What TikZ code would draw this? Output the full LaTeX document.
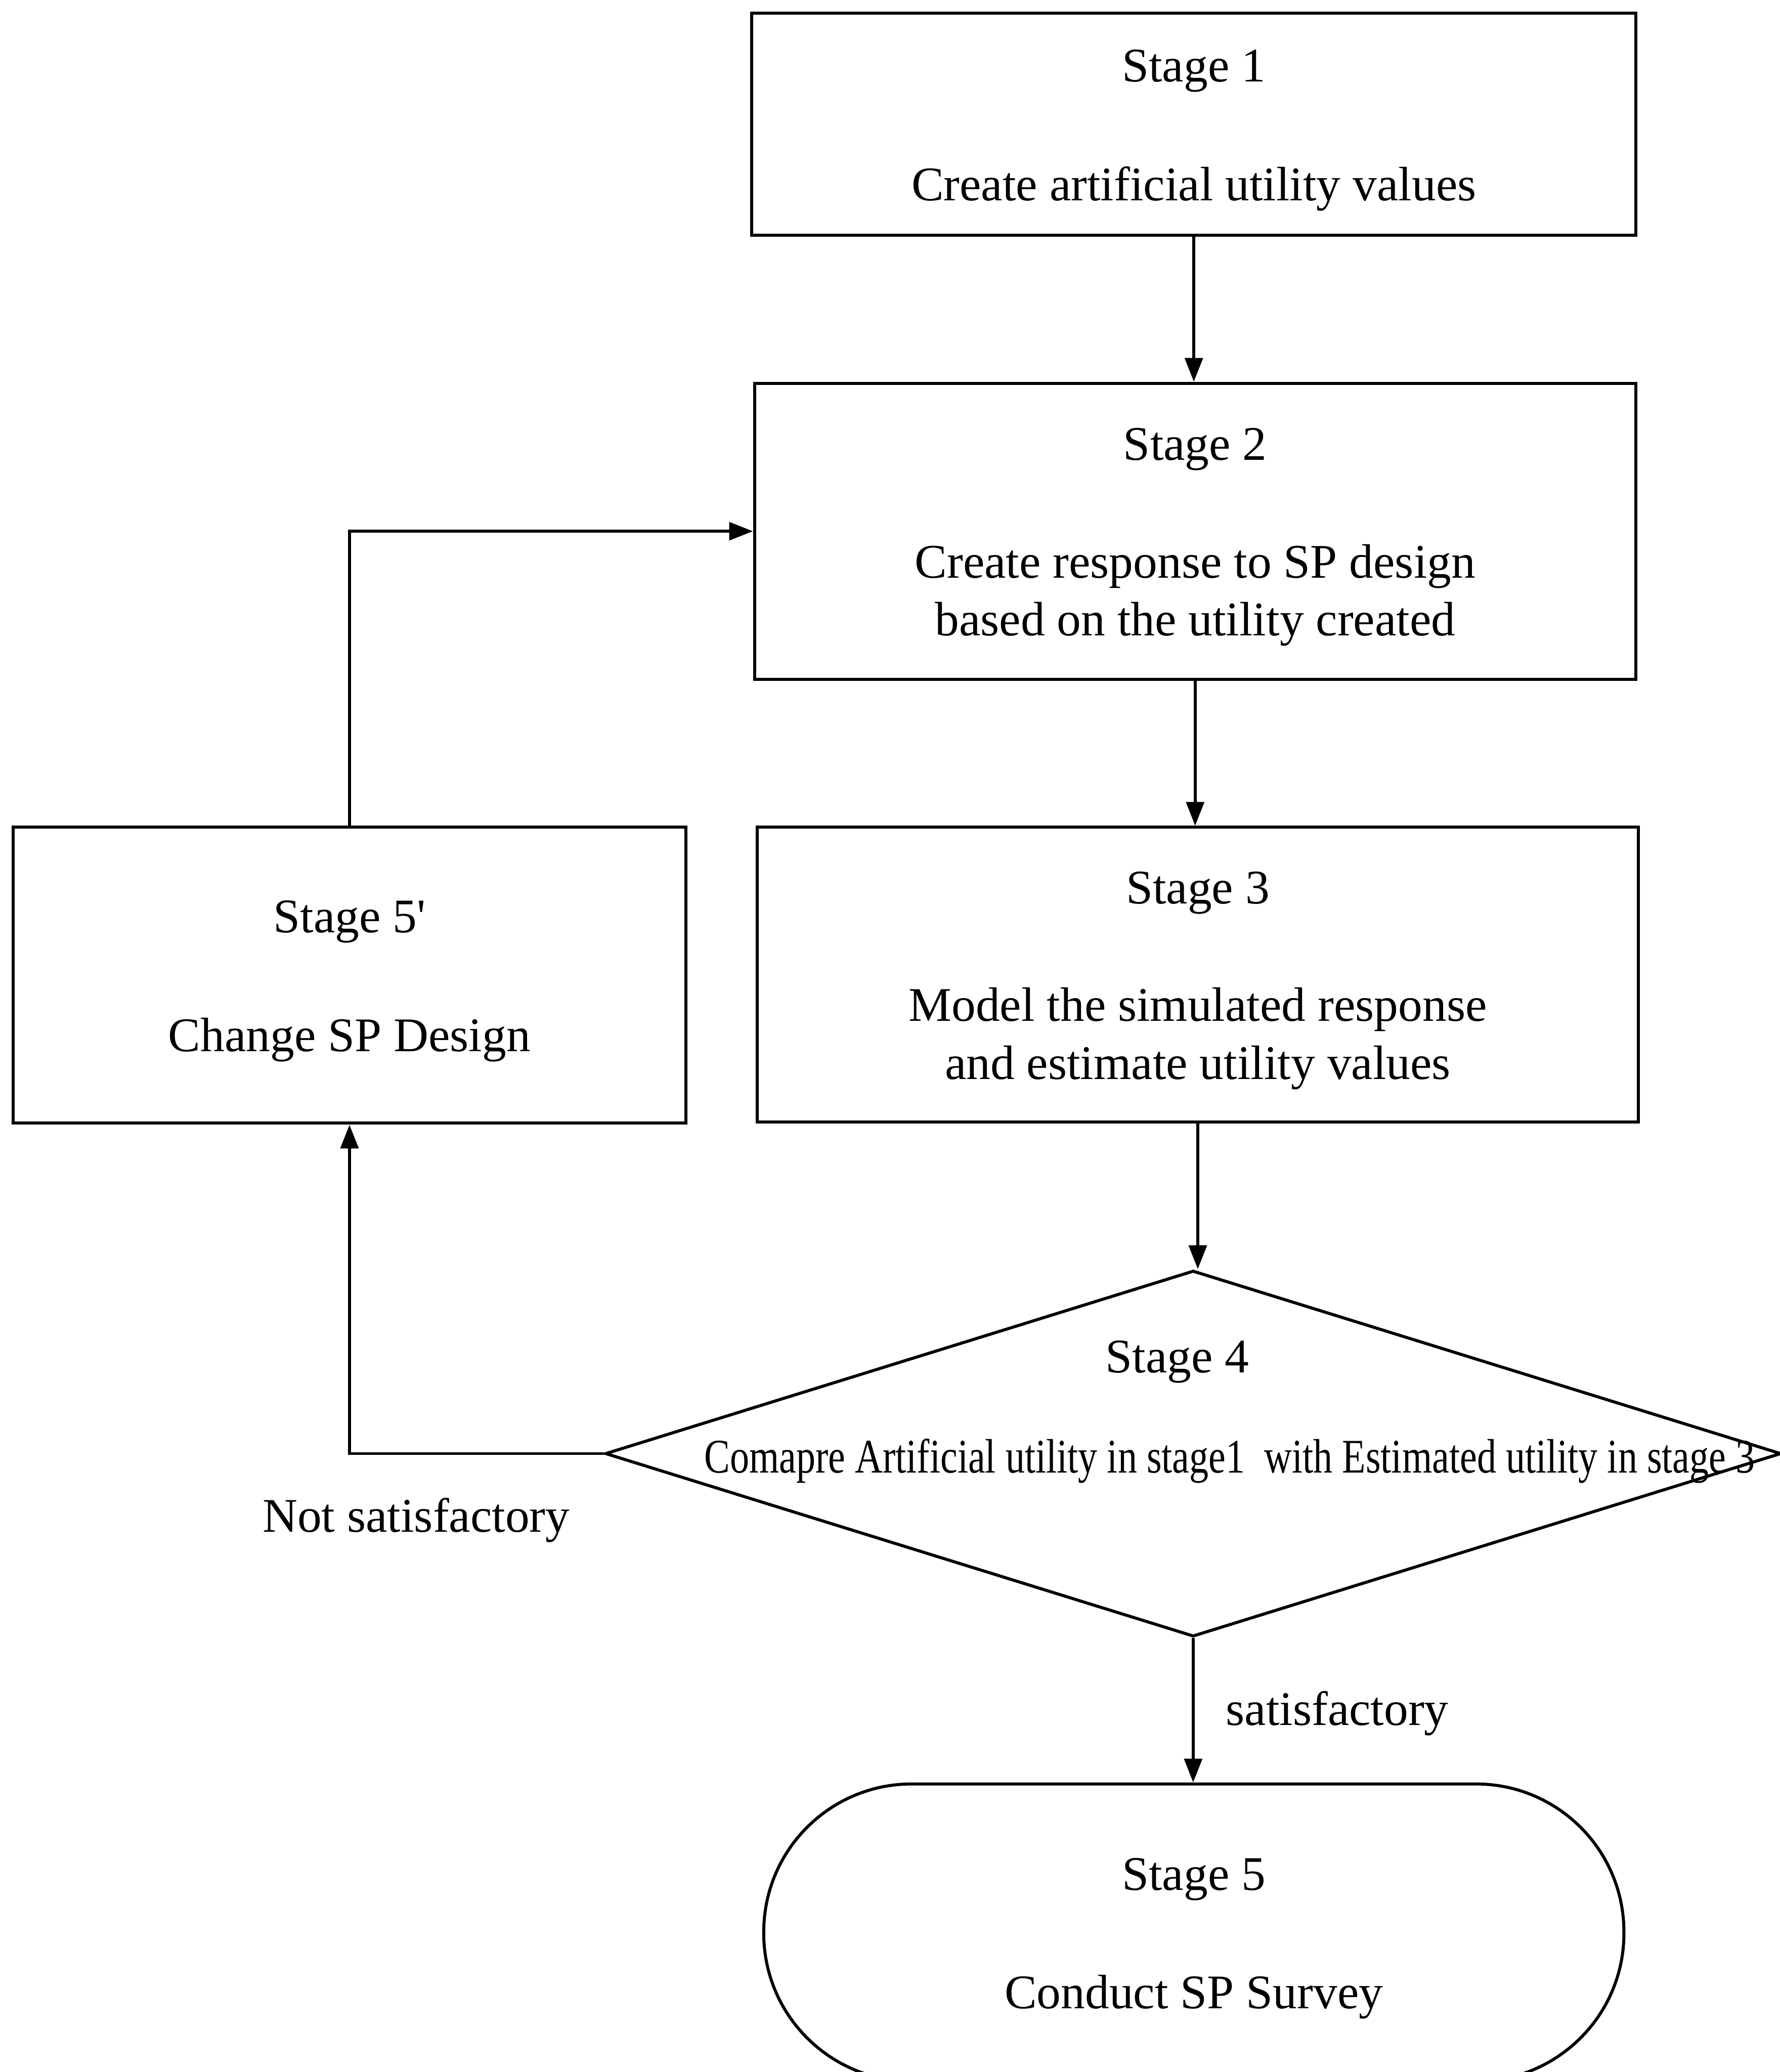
\documentclass[tikz,border=0pt]{standalone}
\usepackage{fontspec}
\usepackage{graphicx}
\setmainfont{Liberation Serif}
\usetikzlibrary{arrows.meta,shapes.geometric}
\begin{document}
\begin{tikzpicture}[x=0.1mm,y=-0.1mm,
  txt/.style={font=\fontsize{10.4pt}{12.5pt}\selectfont,align=center,inner sep=0pt,yshift=-0.45mm},
  box/.style={draw,line width=0.65pt,inner sep=0pt},
  arr/.style={line width=0.65pt,-{Triangle[length=1.8mm,width=1.35mm]}}]
\useasboundingbox (0,0) rectangle (1347,1568);
\node[box,minimum width=66.9mm,minimum height=16.8mm] (s1) at (903.5,94) {};
\node[txt] (s1t) at (s1.center) {Stage 1\\[4.6mm]Create artificial utility values};
\node[box,minimum width=66.7mm,minimum height=22.4mm] (s2) at (904.5,402) {};
\node[txt] (s2t) at (s2.center) {Stage 2\\[4.5mm]Create response to SP design\\based on the utility created};
\node[box,minimum width=66.7mm,minimum height=22.3mm] (s3) at (906.5,737.5) {};
\node[txt] (s3t) at (s3.center) {Stage 3\\[4.5mm]Model the simulated response\\and estimate utility values};
\node[box,minimum width=50.9mm,minimum height=22.4mm] (s5p) at (264.5,738) {};
\node[txt] (s5pt) at (s5p.center) {Stage 5\textquotesingle\\[4.6mm]Change SP Design};
\node[box,diamond,minimum width=89mm,minimum height=27.7mm] (d4) at (903,1100) {};
\node[txt] (t4) at (891,1026) {Stage 4};
\node[txt] (t4b) at (930.5,1101) {\resizebox{79.5mm}{\height}{Comapre Artificial utility in stage1~ with Estimated utility in stage 3}};
\node[box,rounded corners=11.2mm,minimum width=65.1mm,minimum height=22.5mm] (s5) at (903.5,1462.5) {};
\node[txt] (s5t) at (s5.center) {Stage 5\\[4.6mm]Conduct SP Survey};
\node[txt] (ns) at (315,1146) {Not satisfactory};
\node[txt] (sat) at (1012,1292) {satisfactory};
\draw[arr] (s1.south) -- (s1.south |- s2.north);
\draw[arr] (s2.south) -- (s2.south |- s3.north);
\draw[arr] (s3.south) -- (s3.south |- d4.north);
\draw[arr] (d4.south) -- (d4.south |- s5.north);
\draw[arr] (d4.west) -| (s5p.south);
\draw[arr] (s5p.north) |- (s2.west);
\end{tikzpicture}
\end{document}
